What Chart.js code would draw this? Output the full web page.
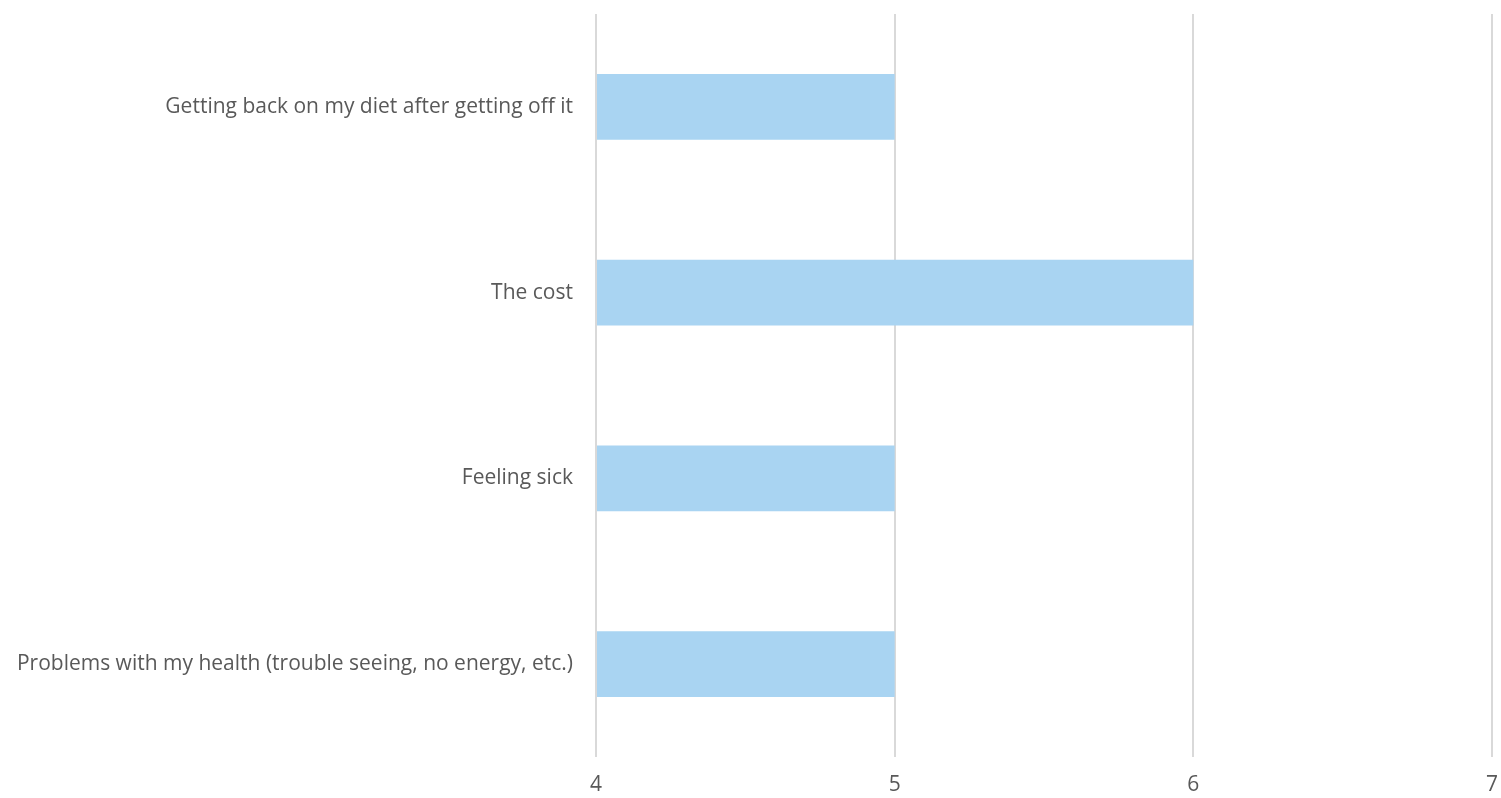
<!DOCTYPE html>
<html>
<head>
<meta charset="utf-8">
<script src="https://cdn.jsdelivr.net/npm/chart.js@4/dist/chart.umd.min.js"></script>
<style>
  html, body { margin: 0; padding: 0; background: #fff; }
  #wrap { width: 1501px; height: 798px; }
</style>
</head>
<body>
<div id="wrap"><canvas id="chart"></canvas></div>
<script>
// Survey answers, top to bottom
const categories = [
  'Getting back on my diet after getting off it',
  'The cost',
  'Feeling sick',
  'Problems with my health (trouble seeing, no energy, etc.)'
];
const counts = [5, 6, 5, 5];
const xTicks = [4, 5, 6, 7];

const BAR_COLOR = '#a9d4f2';
const GRID_COLOR = '#d9d9d9';
const TEXT_COLOR = '#595959';
const FONT = { family: '"Open Sans", "Liberation Sans", sans-serif', size: 21 };

new Chart(document.getElementById('chart'), {
  type: 'bar',
  data: {
    labels: categories,
    datasets: [{
      data: counts,
      backgroundColor: BAR_COLOR,
      borderWidth: 0,
      base: 4,
      barPercentage: 0.355,
      categoryPercentage: 1
    }]
  },
  options: {
    indexAxis: 'y',
    responsive: true,
    maintainAspectRatio: false,
    animation: false,
    layout: { padding: { top: 14, right: 9, left: 0, bottom: 0 } },
    plugins: { legend: { display: false }, tooltip: { enabled: false } },
    scales: {
      x: {
        min: 4,
        max: 7,
        afterBuildTicks: axis => { axis.ticks = xTicks.map(v => ({ value: v })); },
        afterFit: axis => {
          axis.height = 41;
          axis.paddingLeft = 0;
          axis.paddingRight = 0;
        },
        grid: { color: GRID_COLOR, lineWidth: 2, drawTicks: false },
        border: { display: false },
        ticks: { color: TEXT_COLOR, font: FONT, padding: 15 }
      },
      y: {
        afterFit: axis => {
          axis.width = 596;
          axis.paddingTop = 0;
          axis.paddingBottom = 0;
        },
        grid: { display: false },
        border: { display: false },
        ticks: { color: TEXT_COLOR, font: FONT, padding: 15 }
      }
    }
  }
});
</script>
</body>
</html>
